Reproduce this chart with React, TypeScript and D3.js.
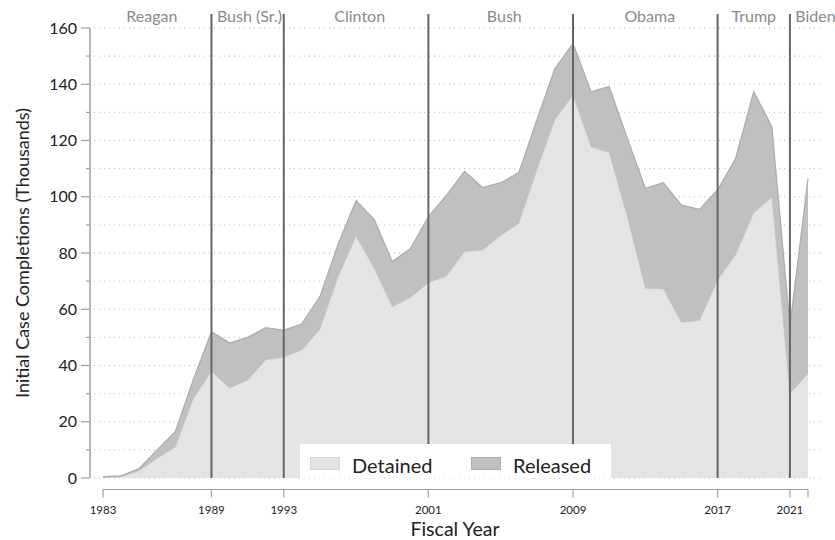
import React from "react";
import * as d3 from "d3";

const years: number[] = d3.range(1983, 2023);
const detained: number[] = [
  0.2, 0.4, 2.6, 7, 11, 28.3, 38, 32, 34.8, 42,
  43, 45.5, 52.9, 71.5, 86, 74.6, 60.9, 64.2, 69.4, 71.8,
  80.5, 81, 86.2, 90.5, 109.5, 127.5, 136.2, 117.8, 115.7, 93,
  67.5, 67.2, 55.3, 56, 70.4, 79.5, 94.3, 99.8, 30, 37.2,
];
const released: number[] = [
  0.3, 0.4, 0.8, 3, 5.5, 6.7, 14, 16, 15.2, 11.5,
  9.5, 9.3, 11.6, 11.5, 12.6, 17.4, 16.1, 17.3, 23.5, 28.8,
  28.5, 22.3, 18.8, 18, 17.8, 18.1, 18.3, 19.5, 23.5, 27.8,
  35.5, 37.8, 41.7, 39.5, 32, 34.2, 43.1, 25.1, 24, 69.3,
];
const termStarts: number[] = [1989, 1993, 2001, 2009, 2017, 2021];
const presidents: string[] = ["Reagan", "Bush (Sr.)", "Clinton", "Bush", "Obama", "Trump", "Biden"];
const presidentLabelYears: number[] = [1985.7, 1991.1, 1997.2, 2005.2, 2013.25, 2019, 2021.3];
const xTickYears: number[] = [1983, 1989, 1993, 2001, 2009, 2017, 2021];
const yTicks: number[] = [0, 20, 40, 60, 80, 100, 120, 140, 160];
const yMinor: number[] = d3.range(0, 161, 10);
const seriesNames: string[] = ["Detained", "Released"];

const FONT = "Lato, 'Open Sans', sans-serif";

export default function App() {
  const x = d3.scaleLinear().domain([1983, 2022]).range([103, 808]);
  const y = d3.scaleLinear().domain([0, 160]).range([478, 28]);

  const table = years.map((yr, i) => ({ year: yr, Detained: detained[i], Released: released[i] }));
  const stacked = d3.stack<any>().keys(seriesNames)(table);
  const area = d3
    .area<any>()
    .x((d) => x(d.data.year))
    .y0((d) => y(d[0]))
    .y1((d) => y(d[1]));
  const topLine = d3
    .line<any>()
    .x((d) => x(d.data.year))
    .y((d) => y(d[1]));

  const fills = ["#e4e4e4", "#c0c0c0"];
  const strokes = ["#d6d6d6", "#ababab"];

  return (
    <svg
      width={835}
      height={540}
      style={{ position: "absolute", left: 0, top: 0, background: "#fff" }}
      fontFamily={FONT}
    >
      {/* gridlines */}
      {yMinor.map((t) => (
        <line
          key={"g" + t}
          x1={94}
          x2={822}
          y1={y(t)}
          y2={y(t)}
          stroke="#b5b5b5"
          strokeWidth={1}
          strokeDasharray="1 4"
        />
      ))}
      {/* areas */}
      {stacked.map((s, i) => (
        <g key={s.key}>
          <path d={area(s) || ""} fill={fills[i]} />
          <path d={topLine(s) || ""} fill="none" stroke={strokes[i]} strokeWidth={1.2} />
        </g>
      ))}
      {/* president lines */}
      {termStarts.map((t) => (
        <line key={"p" + t} x1={x(t)} x2={x(t)} y1={14} y2={y(0)} stroke="#666" strokeWidth={2} />
      ))}
      {presidents.map((p, i) => (
        <text
          key={p}
          x={x(presidentLabelYears[i])}
          y={22}
          fontSize={16}
          fill="#8a8a8a"
          textAnchor={i === presidents.length - 1 ? "start" : "middle"}
        >
          {p}
        </text>
      ))}
      {/* y axis */}
      <line x1={90} x2={90} y1={y(160)} y2={y(0)} stroke="#a0a0a0" strokeWidth={1.5} />
      {yMinor.map((t) => (
        <line
          key={"ym" + t}
          x1={t % 20 === 0 ? 81 : 86}
          x2={90}
          y1={y(t)}
          y2={y(t)}
          stroke="#a0a0a0"
          strokeWidth={1.2}
        />
      ))}
      {yTicks.map((t) => (
        <text key={"yt" + t} x={77} y={y(t)} dy="0.35em" fontSize={16} textAnchor="end" fill="#222">
          {t}
        </text>
      ))}
      <text
        transform={`translate(23,${253}) rotate(-90)`}
        textAnchor="middle"
        dy="0.35em"
        fontSize={18}
        fill="#222"
      >
        Initial Case Completions (Thousands)
      </text>
      {/* x axis */}
      <line x1={x(1983)} x2={x(2022)} y1={489.5} y2={489.5} stroke="#a0a0a0" strokeWidth={1.2} />
      {[...xTickYears, 2022].map((t) => (
        <line key={"xt" + t} x1={x(t)} x2={x(t)} y1={489.5} y2={497.5} stroke="#a0a0a0" strokeWidth={1.2} />
      ))}
      {xTickYears.map((t) => (
        <text key={"xl" + t} x={x(t)} y={514} fontSize={11.5} textAnchor="middle" fill="#222">
          {t}
        </text>
      ))}
      <text x={455} y={536} fontSize={19.5} textAnchor="middle" fill="#222">
        Fiscal Year
      </text>
      {/* legend */}
      <g>
        <rect x={300} y={444} width={311} height={34} fill="#fff" />
        {seriesNames.map((n, i) => (
          <g key={"lg" + n} transform={`translate(${310 + i * 161},0)`}>
            <rect x={0.5} y={457.5} width={29} height={12} fill={fills[i]} stroke={strokes[i]} />
            <text x={42} y={472.5} fontSize={20} fill="#222">
              {n}
            </text>
          </g>
        ))}
      </g>
    </svg>
  );
}
